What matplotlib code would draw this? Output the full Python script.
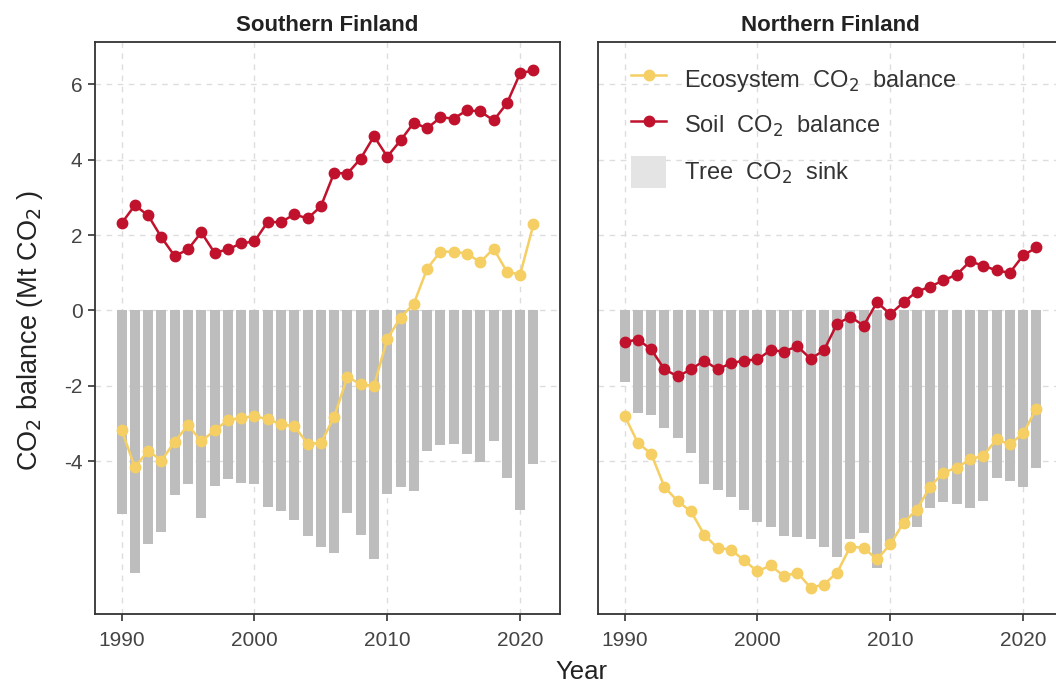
import numpy as np
import matplotlib
matplotlib.use("Agg")
import matplotlib.pyplot as plt
from matplotlib.lines import Line2D
from matplotlib.patches import Patch

plt.rcParams['font.family'] = ['Liberation Sans', 'DejaVu Sans']
plt.rcParams['axes.unicode_minus'] = False

years = np.arange(1990, 2022)

# Southern Finland
south_eco = [-3.16, -4.16, -3.72, -3.98, -3.48, -3.04, -3.47, -3.18, -2.91, -2.85,
             -2.81, -2.88, -3.02, -3.07, -3.53, -3.52, -2.82, -1.76, -1.96, -2.0,
             -0.75, -0.19, 0.18, 1.11, 1.56, 1.56, 1.51, 1.28, 1.64, 1.03,
             0.95, 2.28]
south_soil = [2.31, 2.79, 2.52, 1.94, 1.44, 1.62, 2.07, 1.53, 1.62, 1.78,
              1.83, 2.35, 2.34, 2.55, 2.44, 2.76, 3.65, 3.63, 4.03, 4.62,
              4.08, 4.51, 4.98, 4.83, 5.12, 5.09, 5.31, 5.28, 5.04, 5.49,
              6.29, 6.37]
south_tree = [-5.41, -6.95, -6.2, -5.88, -4.9, -4.6, -5.5, -4.66, -4.46, -4.57,
              -4.6, -5.2, -5.32, -5.57, -5.97, -6.27, -6.42, -5.36, -5.96, -6.59,
              -4.86, -4.69, -4.78, -3.74, -3.58, -3.53, -3.81, -4.01, -3.45, -4.43,
              -5.3, -4.06]

# Northern Finland
north_eco = [-2.79, -3.51, -3.8, -4.68, -5.06, -5.33, -5.95, -6.3, -6.34, -6.63,
             -6.92, -6.76, -7.05, -6.95, -7.35, -7.27, -6.95, -6.26, -6.3, -6.6,
             -6.2, -5.63, -5.28, -4.67, -4.3, -4.17, -3.95, -3.85, -3.42, -3.55,
             -3.26, -2.6]
north_soil = [-0.84, -0.77, -1.03, -1.56, -1.75, -1.56, -1.33, -1.56, -1.4, -1.33,
              -1.3, -1.05, -1.09, -0.95, -1.28, -1.06, -0.35, -0.17, -0.4, 0.22,
              -0.1, 0.22, 0.5, 0.63, 0.8, 0.95, 1.3, 1.19, 1.06, 1.0,
              1.46, 1.67]
north_tree = [-1.91, -2.71, -2.76, -3.13, -3.37, -3.79, -4.59, -4.77, -4.96, -5.3,
              -5.62, -5.73, -5.99, -6.02, -6.07, -6.26, -6.55, -6.05, -5.89, -6.82,
              -6.2, -5.78, -5.74, -5.24, -5.09, -5.12, -5.24, -5.04, -4.43, -4.53,
              -4.67, -4.19]

panels = ['Southern Finland', 'Northern Finland']
eco_c = '#f5cf63'
soil_c = '#c0122c'
bar_c = '#bdbdbd'

fig = plt.figure(figsize=(10.56, 6.88), dpi=100)
ax1 = fig.add_axes([95 / 1056, 1 - 614 / 688, 465 / 1056, 572 / 688])
ax2 = fig.add_axes([598 / 1056, 1 - 614 / 688, 465 / 1056, 572 / 688])

data = [(south_eco, south_soil, south_tree), (north_eco, north_soil, north_tree)]
for ax, title, (eco, soil, tree) in zip([ax1, ax2], panels, data):
    ax.bar(years, tree, width=0.75, color=bar_c, zorder=2)
    ax.plot(years, eco, color=eco_c, marker='o', markersize=7.5, lw=1.8, zorder=3)
    ax.plot(years, soil, color=soil_c, marker='o', markersize=7.5, lw=1.8, zorder=4)
    ax.set_xlim(1988, 2023)
    ax.set_ylim(-8.05, 7.12)
    ax.set_xticks([1990, 2000, 2010, 2020])
    ax.set_yticks([-4, -2, 0, 2, 4, 6])
    ax.grid(True, color='#dddddd', linestyle=(0, (4, 4)), lw=1, zorder=0)
    ax.set_axisbelow(True)
    for s in ax.spines.values():
        s.set_color('#333333')
        s.set_linewidth(1.3)
    ax.tick_params(axis='both', labelsize=15, colors='#333333', length=5, width=1.2,
                   labelcolor='#444444', pad=4)
    ax.tick_params(axis='x', pad=7)
    ax.set_title(title, fontsize=16, fontweight='bold', pad=8, color='#222222')

ax2.tick_params(axis='y', left=False, labelleft=False)

handles = [
    Line2D([0], [0], color=eco_c, marker='o', markersize=7.5, lw=1.8),
    Line2D([0], [0], color=soil_c, marker='o', markersize=7.5, lw=1.8),
    Patch(facecolor='#e4e4e4', edgecolor='none'),
]
labels = [r'Ecosystem  CO$_2$  balance', r'Soil  CO$_2$  balance', r'Tree  CO$_2$  sink']
ax2.legend(handles, labels, loc='upper left', bbox_to_anchor=(33 / 465, 1 - 21 / 572),
           frameon=False, fontsize=17, labelspacing=0.62, handlelength=1.5,
           handleheight=1.7, borderaxespad=0, borderpad=0, handletextpad=0.76,
           labelcolor='#333333')

fig.text(30 / 1056, 1 - 330 / 688, r'CO$_2$ balance (Mt CO$_2$ )', rotation=90,
         ha='center', va='center', fontsize=19.5, color='#222222')
fig.text(581 / 1056, 1 - 672 / 688, 'Year', ha='center', va='center', fontsize=18.5,
         color='#222222')

fig.savefig('out.png', dpi=100)
